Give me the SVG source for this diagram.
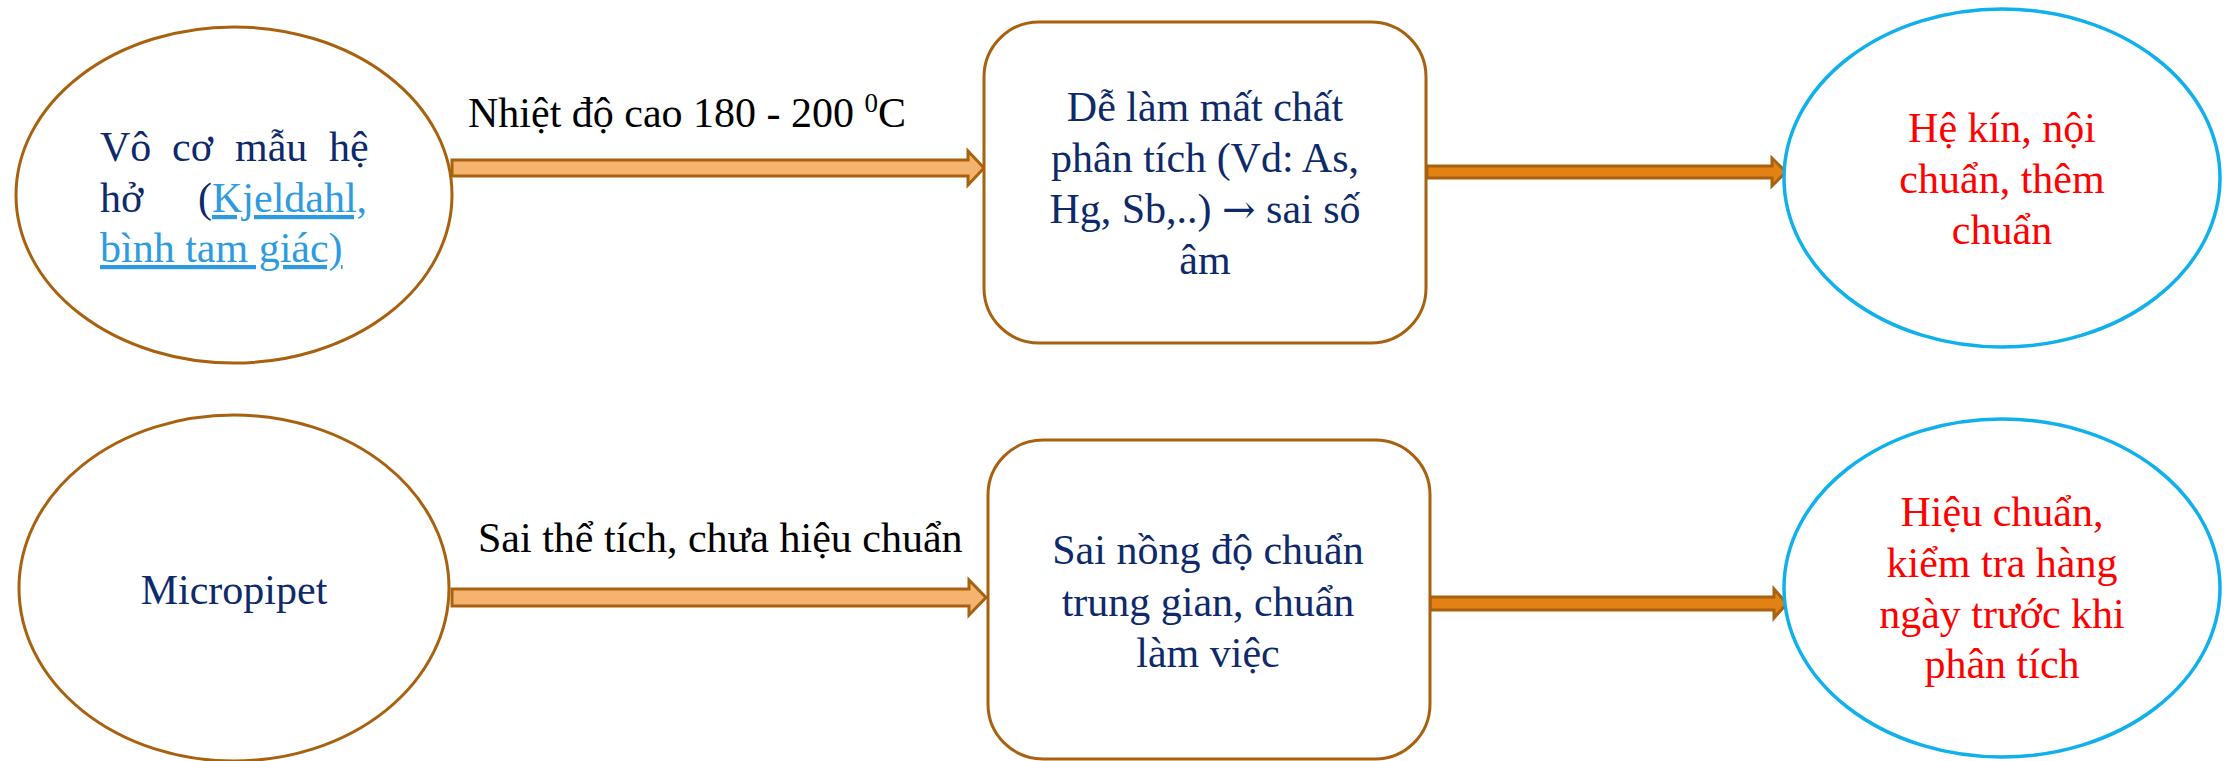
<svg xmlns="http://www.w3.org/2000/svg" width="2236" height="761" viewBox="0 0 2236 761">
<style>
.t{font-family:"Liberation Serif","Times New Roman",serif;font-size:42px}
.navy{fill:#0E2A6B}
.red{fill:#FF0000}
.blk{fill:#000}
.link{fill:#2E9BE0;text-decoration:underline}
.brown{fill:#fff;stroke:#A8610F;stroke-width:3}
.cyan{fill:#fff;stroke:#0FB0EC;stroke-width:3.5}
.arrL{fill:#F4B36E;stroke:#A8610F;stroke-width:3}
.arrD{fill:#E38214;stroke:#A8610F;stroke-width:3}
.sym{font-family:"DejaVu Serif","DejaVu Sans",serif}
</style>
<rect width="2236" height="761" fill="#fff"/>
<g id="connectors">
  <path class="arrL" d="M452,160 L968,160 L968,151 L984,168 L968,185 L968,176 L452,176 Z"/>
  <path class="arrD" d="M1427,166 L1772,166 L1772,158 L1786,172 L1772,186 L1772,178 L1427,178 Z"/>
  <path class="arrL" d="M452,589 L969,589 L969,580 L986,597.5 L969,615 L969,606 L452,606 Z"/>
  <path class="arrD" d="M1430,597 L1774,597 L1774,589 L1787,603.5 L1774,618 L1774,610 L1430,610 Z"/>
  <text class="t blk" x="468" y="127">Nhiệt độ cao 180 - 200 <tspan font-size="27" dy="-15">0</tspan><tspan dy="15">C</tspan></text>
  <text class="t blk" x="478" y="552">Sai thể tích, chưa hiệu chuẩn</text>
</g>
<g id="node-vo-co">
  <ellipse class="brown" cx="234" cy="195" rx="218" ry="168"/>
  <text class="t navy" y="161"><tspan x="100">Vô</tspan><tspan x="172">cơ</tspan><tspan x="235">mẫu</tspan><tspan x="329">hệ</tspan></text>
  <text class="t navy" y="212"><tspan x="100">hở</tspan><tspan x="198">(</tspan></text>
  <text class="t link" x="212" y="212">Kjeldahl,</text>
  <text class="t link" x="100" y="262">bình tam giác)</text>
</g>
<g id="node-de-lam-mat">
  <rect class="brown" x="984" y="22" width="442" height="321" rx="55" ry="55"/>
  <text class="t navy" text-anchor="middle" x="1205"><tspan x="1205" y="121">Dễ làm mất chất</tspan><tspan x="1205" y="172">phân tích (Vd: As,</tspan><tspan x="1205" y="223">Hg, Sb,..) <tspan class="sym" font-size="40">→</tspan> sai số</tspan><tspan x="1205" y="274">âm</tspan></text>
</g>
<g id="node-he-kin">
  <ellipse class="cyan" cx="2002" cy="178" rx="218" ry="169"/>
  <text class="t red" text-anchor="middle"><tspan x="2002" y="142">Hệ kín, nội</tspan><tspan x="2002" y="193">chuẩn, thêm</tspan><tspan x="2002" y="244">chuẩn</tspan></text>
</g>
<g id="node-micropipet">
  <ellipse class="brown" cx="234" cy="588" rx="215" ry="173"/>
  <text class="t navy" text-anchor="middle" x="234" y="604">Micropipet</text>
</g>
<g id="node-sai-nong-do">
  <rect class="brown" x="988" y="440" width="442" height="319" rx="55" ry="55"/>
  <text class="t navy" text-anchor="middle"><tspan x="1208" y="564">Sai nồng độ chuẩn</tspan><tspan x="1208" y="616">trung gian, chuẩn</tspan><tspan x="1208" y="667">làm việc</tspan></text>
</g>
<g id="node-hieu-chuan">
  <ellipse class="cyan" cx="2002" cy="588" rx="218" ry="169"/>
  <text class="t red" text-anchor="middle"><tspan x="2002" y="526">Hiệu chuẩn,</tspan><tspan x="2002" y="577">kiểm tra hàng</tspan><tspan x="2002" y="628">ngày trước khi</tspan><tspan x="2002" y="678">phân tích</tspan></text>
</g>
</svg>
